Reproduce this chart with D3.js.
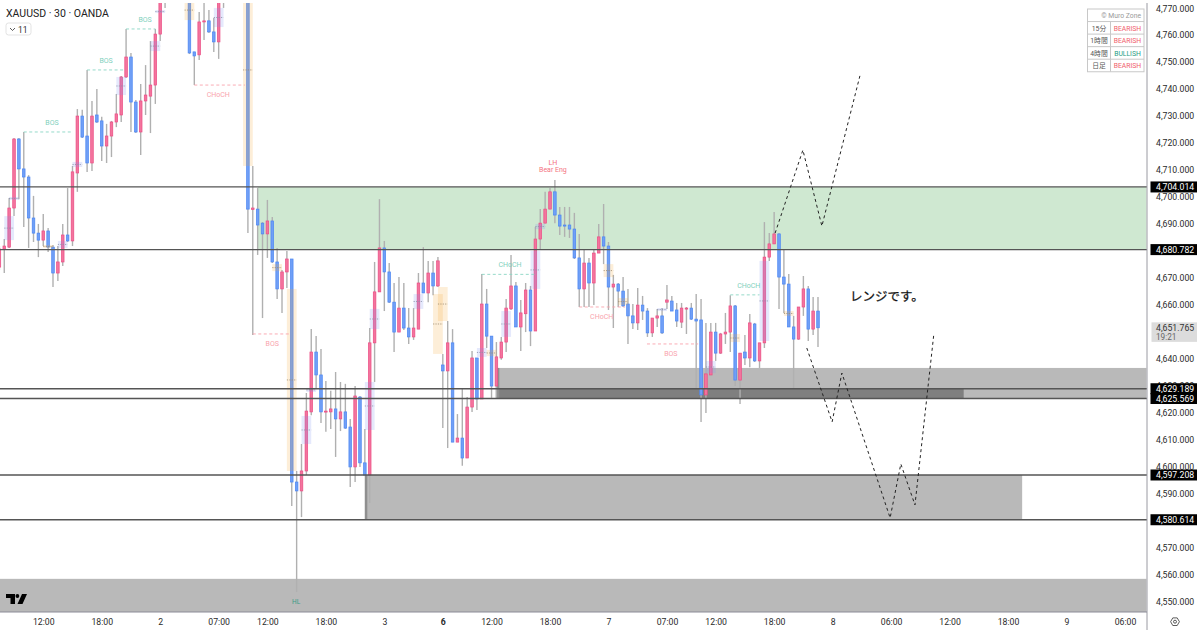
<!DOCTYPE html>
<html>
<head>
<meta charset="utf-8">
<script src="https://cdn.jsdelivr.net/npm/d3@7"></script>
<style>
  html, body { margin: 0; padding: 0; background: #fff; }
  svg { display: block; font-family: Roboto, "Noto Sans CJK JP", sans-serif; }
</style>
</head>
<body>
<div id="chart"></div>
<script>
// candles, one entry per 30 minute bar
var opens = [4674.3,4681.0,4681.7,4696.2,4721.8,4710.7,4707.7,4692.5,4686.9,4684.3,4687.7,4681.7,4672.1,4676.2,4686.2,4684.0,4709.2,4730.3,4722.9,4712.9,
  4730.7,4728.5,4719.2,4722.9,4728.1,4730.7,4744.8,4752.2,4735.5,4724.4,4735.9,4737.7,4741.8,4760.7,4782.0,4780.0,4785.0,4790.0,4787.0,4784.0,
  4754.1,4753.0,4765.2,4765.6,4761.5,4757.8,4778.0,4782.0,4785.0,4788.0,4786.0,4784.0,4695.7,4695.8,4690.6,4686.6,4691.4,4676.2,4666.2,4672.5,
  4677.3,4594.6,4591.3,4598.7,4620.6,4642.8,4634.3,4620.6,4620.6,4621.7,4618.0,4620.6,4615.0,4600.2,4626.1,4601.7,4597.2,4646.2,4665.1,4681.4,
  4672.5,4661.3,4650.2,4659.1,4651.7,4648.4,4651.3,4668.4,4664.7,4672.1,4667.3,4638.0,4635.8,4646.2,4609.4,4610.9,4603.5,4622.4,4640.6,4625.4,
  4660.6,4648.7,4630.2,4640.6,4646.5,4658.8,4667.3,4652.1,4657.0,4665.8,4650.6,4684.7,4690.6,4695.8,4702.2,4693.6,4689.9,4689.9,4688.4,4677.7,
  4666.2,4675.8,4668.4,4679.5,4685.5,4682.1,4666.9,4668.0,4665.4,4660.6,4656.2,4653.6,4660.2,4658.0,4649.9,4655.4,4656.2,4661.3,4661.7,4658.4,
  4653.9,4658.8,4659.1,4655.0,4654.7,4626.9,4634.3,4650.2,4642.4,4649.5,4650.2,4659.9,4632.4,4642.8,4640.6,4653.2,4639.5,4646.2,4678.0,4682.9,
  4686.6,4670.6,4668.0,4652.1,4647.6,4659.5,4666.2,4651.3,4658.0];
var closes = [4681.0,4682.1,4696.2,4721.8,4710.7,4707.7,4692.5,4686.9,4684.3,4687.7,4681.7,4672.1,4676.2,4686.2,4684.0,4709.6,4730.3,4722.5,4712.9,4730.3,
  4728.1,4719.2,4722.9,4728.1,4731.1,4744.8,4752.2,4735.5,4724.4,4735.9,4738.1,4741.8,4760.7,4782.0,4780.0,4785.0,4790.0,4787.0,4784.0,4753.7,
  4752.6,4765.2,4765.6,4761.5,4757.8,4778.0,4782.0,4785.0,4788.0,4786.0,4784.0,4695.8,4696.2,4689.9,4686.6,4691.4,4676.2,4666.2,4672.5,4677.3,
  4594.6,4591.3,4598.7,4620.9,4642.8,4634.3,4620.6,4620.9,4621.7,4618.0,4620.6,4614.6,4600.2,4626.5,4601.7,4597.2,4646.2,4665.1,4681.4,4672.5,
  4661.3,4650.2,4659.1,4651.7,4648.4,4651.7,4668.4,4664.7,4672.1,4667.3,4676.6,4635.8,4646.2,4609.4,4610.9,4603.5,4622.4,4640.6,4625.4,4660.6,
  4648.7,4630.2,4641.0,4646.5,4659.1,4667.3,4652.1,4657.3,4665.8,4650.6,4684.7,4690.6,4695.8,4702.2,4693.6,4689.5,4689.5,4688.4,4677.7,4666.2,
  4675.8,4668.4,4679.5,4685.5,4682.1,4666.9,4668.0,4665.4,4659.9,4656.2,4653.6,4660.2,4658.0,4649.9,4655.4,4656.2,4649.9,4662.1,4658.0,4654.3,
  4659.1,4659.1,4655.0,4654.3,4626.9,4634.7,4650.2,4642.4,4649.5,4650.2,4659.9,4632.4,4642.4,4640.6,4653.6,4639.5,4646.2,4678.0,4682.9,4686.6,
  4670.6,4668.0,4652.1,4647.6,4659.5,4666.2,4651.3,4658.0,4651.8];
var highs = [4682.1,4684.7,4699.9,4722.2,4722.2,4724.4,4708.4,4700.7,4690.3,4694.0,4688.8,4682.5,4682.1,4690.3,4703.6,4711.8,4732.9,4732.6,4747.4,4735.9,
  4740.3,4730.0,4727.4,4728.5,4738.5,4745.2,4762.6,4753.7,4736.3,4742.2,4749.2,4758.1,4762.6,4785.0,4786.0,4790.0,4794.0,4796.0,4792.0,4790.0,
  4754.1,4768.9,4774.0,4769.6,4766.7,4782.0,4788.0,4790.0,4794.0,4795.0,4792.0,4789.0,4711.8,4703.6,4691.0,4699.2,4692.9,4681.4,4673.2,4680.3,
  4677.3,4598.7,4608.7,4627.6,4651.3,4648.7,4643.9,4632.1,4628.4,4635.4,4631.7,4631.0,4618.0,4630.2,4626.5,4614.3,4651.7,4676.2,4699.5,4684.0,
  4675.8,4668.4,4670.6,4668.4,4659.1,4659.1,4672.1,4681.7,4676.6,4676.6,4678.0,4642.1,4654.3,4651.3,4619.8,4629.1,4626.1,4643.2,4640.6,4671.7,
  4666.2,4648.7,4646.5,4648.4,4662.5,4678.8,4668.8,4662.1,4668.4,4667.3,4689.2,4695.8,4702.2,4703.6,4706.6,4696.6,4696.6,4696.6,4694.4,4686.6,
  4681.0,4677.7,4681.0,4690.3,4697.7,4683.6,4671.4,4668.4,4670.6,4666.2,4660.6,4666.5,4663.6,4659.1,4655.4,4658.8,4659.1,4667.7,4663.6,4661.0,
  4661.0,4659.5,4661.0,4664.3,4662.5,4653.6,4653.6,4653.6,4649.9,4657.3,4663.9,4660.2,4642.4,4649.1,4656.9,4653.6,4646.2,4691.0,4686.9,4694.7,
  4686.9,4680.6,4671.7,4656.2,4659.5,4671.0,4667.3,4663.2,4663.2];
var lows = [4673.2,4672.1,4681.4,4693.2,4699.5,4689.2,4681.4,4683.6,4678.0,4682.1,4679.9,4666.9,4669.1,4674.7,4683.6,4682.1,4702.2,4722.2,4709.6,4709.9,
  4727.7,4713.6,4712.9,4715.1,4726.2,4728.1,4744.4,4724.4,4724.0,4715.9,4730.7,4724.0,4734.8,4758.1,4770.4,4776.0,4780.0,4782.0,4778.0,4753.3,
  4741.8,4751.1,4758.5,4761.1,4754.1,4751.5,4770.4,4775.0,4780.0,4781.0,4779.0,4686.9,4649.1,4678.8,4655.4,4677.7,4675.8,4662.5,4657.3,4666.5,
  4585.7,4553.8,4581.6,4597.2,4619.4,4629.1,4616.5,4613.2,4614.3,4603.9,4613.5,4614.3,4592.8,4594.6,4600.2,4597.2,4586.8,4631.7,4665.1,4658.0,
  4661.0,4642.8,4650.2,4651.0,4645.8,4647.3,4651.3,4664.7,4661.3,4663.9,4666.9,4614.6,4607.2,4609.4,4609.4,4600.6,4603.5,4620.6,4621.3,4625.4,
  4644.3,4625.8,4625.8,4639.9,4642.8,4658.4,4652.1,4643.2,4650.2,4645.0,4650.6,4680.6,4690.6,4695.8,4690.6,4686.2,4685.5,4685.1,4677.3,4659.5,
  4659.5,4659.5,4660.2,4679.5,4675.4,4658.4,4651.7,4659.5,4659.5,4645.8,4651.3,4651.0,4654.7,4648.4,4648.4,4652.1,4649.5,4658.8,4658.0,4652.1,
  4651.7,4649.5,4654.7,4629.5,4616.9,4620.2,4634.3,4639.5,4642.1,4645.8,4642.8,4630.2,4623.5,4638.0,4637.2,4639.1,4636.9,4644.3,4676.6,4682.9,
  4658.8,4657.3,4652.1,4629.1,4647.3,4656.2,4646.9,4649.1,4644.7];

// price scale, time scale (4,650 4,680 and 4,580 sit fully behind price tags in the picture)
var priceTicks = [4770,4760,4750,4740,4730,4720,4710,4700,4690,4670,4660,4640,4630,4620,4610,4600,4590,4570,4560,4550];
var timeBars = [9,21,33,45,55,67,79,91,101,113,125,137,147,159,171,183,195,207,219,231];
var timeLabels = ["12:00","18:00","2","07:00","12:00","18:00","3","6","12:00","18:00","7","07:00","12:00","18:00","8","06:00","12:00","18:00","9","06:00"];

// horizontal levels with a black price tag
var levels = [4704.014,4680.782,4629.189,4625.569,4597.208,4580.614];
var lastPrice = 4651.765;

// zones: first bar, last bar, top price, bottom price
var greenZone = [53,235.4,4704.014,4680.782];
var greyZones = [
  [101.9,235.4,4636.9,4629.189],
  [196.0,235.4,4629.189,4625.569],
  [75,209.9,4597.208,4580.614],
  [-1,235.4,4558.7,4546.2]
];
var darkZones = [[101.9,197.9,4629.189,4625.569]];
var edgeZones = [[101.9,102.6,4636.9,4625.569],[75,75.5,4597.208,4580.614]];

// highlight boxes: centre bar, top price, bottom price
var blueBoxes = [[2,4693.2,4684.3],[3,4700.3,4699.2],[16,4713.3,4711.4],[13,4684.0,4681.4],[25,4744.8,4738.1],[32,4758.1,4754.4],[33,4769.6,4768.5],
  [45,4770.4,4763.3],[63,4619.1,4608.7],[64,4629.5,4628.0],[76,4631.7,4613.9],[77,4658.8,4651.3],[86,4664.3,4658.8],[99,4644.3,4641.0],[104,4658.0,4648.4],
  [110,4680.3,4666.2],[111,4690.3,4688.4],[136,4659.1,4658.0],[146,4639.5,4635.0],[157,4676.6,4646.9]];
var orangeBoxes = [[39,4773.3,4765.9],[51,4783.0,4711.8],[10,4682.5,4681.4],[57,4675.4,4672.8],[60,4666.2,4598.7],[90,4664.3,4642.1],[91,4666.9,4654.3],
  [101,4643.6,4641.3],[125,4675.4,4670.6],[128,4662.8,4660.2],[151,4649.5,4646.5],[162,4658.0,4656.2]];

// structure breaks: from bar, to bar, price, label, label bar
var tealBreaks = [[5,15,4724.4,"BOS",10.8],[18,25.5,4747.4,"BOS",21.9],[26,32,4762.6,"BOS",29.9],[99,110,4671.6,"CHoCH",104.8],[150,156,4664.0,"CHoCH",153.8]];
var pinkBreaks = [[40,50.4,4741.8,"CHoCH",44.9],[52,59.6,4649.5,"BOS",56],[119,128.4,4659.5,"CHoCH",123.6],[132.9,143.4,4645.8,"BOS",137.8]];

// hand drawn scenarios: bar, price
var upPathBars = [159.2,164.9,168.8,176.6];
var upPathPrices = [4686.9,4717.7,4689.5,4745.2];
var downPathBars = [165.7,170.9,172.9,182.8,185,187.9,191.8];
var downPathPrices = [4644.3,4616.9,4635.0,4581.3,4601.3,4586.1,4649.9];

var tableRows = ["15分","1時間","4時間","日足"];
var tableTrend = ["BEARISH","BEARISH","BULLISH","BEARISH"];

var width = 1200, height = 630, plotRight = 1147, plotBottom = 612, plotTop = 3;
var blueCol = "#709ff6", blueEdge = "#4b86f3", pinkCol = "#f3749d", pinkEdge = "#ec4c84", wickCol = "#b0b0b0";
var tealText = "#7fd0bd", pinkText = "#f9a3ad";

var svg = d3.select("#chart").append("svg").attr("width", width).attr("height", height);

var x = d3.scaleLinear().domain([0, 168]).range([-0.6, 818]);
var y = d3.scaleLinear().domain([4770, 4550]).range([9, 602.3]);

svg.append("defs").append("clipPath").attr("id", "plot")
  .append("rect").attr("x", 0).attr("y", plotTop).attr("width", plotRight).attr("height", plotBottom - plotTop);

var plot = svg.append("g").attr("clip-path", "url(#plot)");

function zoneRect(g, list, fill) {
  g.selectAll(null).data(list).enter().append("rect")
    .attr("x", function(d) { return x(d[0]); })
    .attr("width", function(d) { return x(d[1]) - x(d[0]); })
    .attr("y", function(d) { return y(d[2]); })
    .attr("height", function(d) { return y(d[3]) - y(d[2]); })
    .style("fill", fill);
}

zoneRect(plot, [greenZone], "#cfe8d1");
zoneRect(plot, greyZones, "#b9b9b9");
zoneRect(plot, darkZones, "#7f7f7f");
zoneRect(plot, edgeZones, "#8f8f8f");

// wicks then bodies
var bars = d3.range(opens.length);
plot.selectAll(".wick").data(bars).enter().append("line")
  .attr("class", "wick")
  .attr("x1", function(i) { return x(i); })
  .attr("x2", function(i) { return x(i); })
  .attr("y1", function(i) { return y(highs[i]); })
  .attr("y2", function(i) { return y(lows[i]); })
  .style("stroke", wickCol)
  .style("stroke-width", 1.4);

plot.selectAll(".body").data(bars).enter().append("rect")
  .attr("class", "body")
  .attr("x", function(i) { return x(i) - 1.3; })
  .attr("width", 2.6)
  .attr("y", function(i) { return y(Math.max(opens[i], closes[i])); })
  .attr("height", function(i) { return Math.max(1, Math.abs(y(opens[i]) - y(closes[i]))); })
  .style("fill", function(i) { return closes[i] >= opens[i] ? pinkCol : blueCol; })
  .style("stroke", function(i) { return closes[i] >= opens[i] ? pinkEdge : blueEdge; })
  .style("stroke-width", 0.7);

function boxes(list, fill, mid) {
  plot.selectAll(null).data(list).enter().append("rect")
    .attr("x", function(d) { return x(d[0] - 1); })
    .attr("width", function(d) { return x(d[0] + 1) - x(d[0] - 1); })
    .attr("y", function(d) { return y(d[1]); })
    .attr("height", function(d) { return y(d[2]) - y(d[1]); })
    .style("fill", fill)
    .style("fill-opacity", 0.2);
  plot.selectAll(null).data(list).enter().append("line")
    .attr("x1", function(d) { return x(d[0] - 1); })
    .attr("x2", function(d) { return x(d[0] + 1); })
    .attr("y1", function(d) { return y((d[1] + d[2]) / 2); })
    .attr("y2", function(d) { return y((d[1] + d[2]) / 2); })
    .style("stroke", mid)
    .style("stroke-width", 0.8)
    .style("stroke-dasharray", "1.2,1.2");
}
boxes(blueBoxes, "#7f93f0", "#8a8fa8");
boxes(orangeBoxes, "#f7a93c", "#9a8a70");

// horizontal levels on top of the candles
plot.selectAll(".level").data(levels).enter().append("line")
  .attr("class", "level")
  .attr("x1", 0).attr("x2", plotRight)
  .attr("y1", function(d) { return y(d); })
  .attr("y2", function(d) { return y(d); })
  .style("stroke", "#555")
  .style("stroke-width", 1.3);

function breaks(list, col, textCol, above) {
  plot.selectAll(null).data(list).enter().append("line")
    .attr("x1", function(d) { return x(d[0]); })
    .attr("x2", function(d) { return x(d[1]); })
    .attr("y1", function(d) { return y(d[2]); })
    .attr("y2", function(d) { return y(d[2]); })
    .style("stroke", col)
    .style("stroke-width", 0.9)
    .style("stroke-dasharray", "3,2.5");
  plot.selectAll(null).data(list).enter().append("text")
    .attr("x", function(d) { return x(d[4]); })
    .attr("y", function(d) { return y(d[2]) + (above ? -7 : 12); })
    .attr("text-anchor", "middle")
    .style("font-size", "7px")
    .style("fill", textCol)
    .text(function(d) { return d[3]; });
}
breaks(tealBreaks, "#8ad6c4", tealText, true);
breaks(pinkBreaks, "#f9a3ad", pinkText, false);

// dashed scenario paths
var pathLine = d3.line();
function scenario(bs, ps) {
  plot.append("path")
    .attr("d", pathLine(bs.map(function(b, i) { return [x(b), y(ps[i])]; })))
    .style("fill", "none")
    .style("stroke", "#222")
    .style("stroke-width", 1)
    .style("stroke-dasharray", "3,3");
}
scenario(upPathBars, upPathPrices);
scenario(downPathBars, downPathPrices);

// single labels
svg.append("text").attr("x", x(113.6)).attr("y", y(4712.2)).attr("text-anchor", "middle")
  .style("font-size", "7px").style("fill", "#f4737f").text("LH");
svg.append("text").attr("x", x(113.6)).attr("y", y(4709.6)).attr("text-anchor", "middle")
  .style("font-size", "7px").style("fill", "#f4737f").text("Bear Eng");
svg.append("text").attr("x", x(60.9)).attr("y", y(4549.2)).attr("text-anchor", "middle")
  .style("font-size", "6.5px").style("fill", "#3c9c88").text("HL");
svg.append("text").attr("x", 850).attr("y", 301)
  .style("font-size", "12.5px").style("fill", "#111").style("stroke", "#111").style("stroke-width", 0.25)
  .style("font-family", "'Noto Sans CJK JP'").text("レンジです。");

// axes
var priceAxis = d3.axisRight(y).tickValues(priceTicks).tickSize(0).tickPadding(9).tickFormat(d3.format(",.3f"));
var gy = svg.append("g").attr("transform", "translate(" + plotRight + ",0)").call(priceAxis);
gy.select(".domain").remove();
gy.selectAll("text").attr("dy", "2px").style("font-size", "8.7px").style("fill", "#2a2a2a").style("font-family", "Roboto");
svg.append("line").attr("x1", plotRight).attr("x2", plotRight).attr("y1", plotTop).attr("y2", height)
  .style("stroke", "#9a9aa2");

var timeAxis = d3.axisBottom(x).tickValues(timeBars).tickSize(0).tickPadding(6.5)
  .tickFormat(function(d, i) { return timeLabels[i]; });
var gx = svg.append("g").attr("transform", "translate(0," + plotBottom + ")").call(timeAxis);
gx.select(".domain").remove();
gx.selectAll("text").style("font-size", "8.7px").style("fill", "#2a2a2a").style("font-family", "Roboto")
  .style("font-weight", function(d, i) { return timeLabels[i] === "6" ? 700 : 400; });
svg.append("line").attr("x1", 0).attr("x2", plotRight).attr("y1", plotBottom).attr("y2", plotBottom)
  .style("stroke", "#8c8c98").style("stroke-width", 1.2);

// price tags
var tags = svg.selectAll(".tag").data(levels).enter().append("g").attr("class", "tag")
  .attr("transform", function(d) { return "translate(1150.5," + y(d) + ")"; });
tags.append("rect").attr("x", 0).attr("y", -5.5).attr("width", 46.5).attr("height", 11).style("fill", "#000");
tags.append("text").attr("x", 5.5).attr("y", 3.1).style("font-size", "8.7px").style("fill", "#fff")
  .text(function(d) { return d3.format(",.3f")(d); });

var lastTag = svg.append("g").attr("transform", "translate(1151.5," + (y(lastPrice) - 5.5) + ")");
lastTag.append("rect").attr("width", 45.5).attr("height", 19.5).style("fill", "#dcdcdc");
lastTag.append("text").attr("x", 4.5).attr("y", 8.5).style("font-size", "8.7px").style("fill", "#333").text(d3.format(",.3f")(lastPrice));
lastTag.append("text").attr("x", 4.5).attr("y", 17.5).style("font-size", "8.2px").style("fill", "#666").text("19:21");

// header
svg.append("text").attr("x", 6).attr("y", 17).style("font-size", "10.5px").style("fill", "#222").text("XAUUSD · 30 · OANDA");
svg.append("rect").attr("x", 6).attr("y", 23).attr("width", 25).attr("height", 12).attr("rx", 2.5)
  .style("fill", "#fff").style("stroke", "#e3e3e3");
svg.append("path").attr("d", "M10 28 L12.5 30.5 L15 28").style("fill", "none").style("stroke", "#333").style("stroke-width", 0.8);
svg.append("text").attr("x", 18).attr("y", 32.5).style("font-size", "8.5px").style("fill", "#333").text("11");

// trend table
var tbl = svg.append("g").attr("transform", "translate(1087.5,9)");
var rowH = 12.55;
tbl.append("rect").attr("width", 56.5).attr("height", rowH * 5).style("fill", "#fff").style("stroke", "#c8c8c8");
tbl.append("text").attr("x", 53.5).attr("y", 9).attr("text-anchor", "end").style("font-size", "6.8px").style("fill", "#999").text("© Muro Zone");
tableRows.forEach(function(r, i) {
  var top = rowH * (i + 1);
  tbl.append("line").attr("x1", 0).attr("x2", 56.5).attr("y1", top).attr("y2", top).style("stroke", "#c8c8c8");
  tbl.append("line").attr("x1", 23).attr("x2", 23).attr("y1", top).attr("y2", top + rowH).style("stroke", "#c8c8c8");
  tbl.append("text").attr("x", 11.5).attr("y", top + 9).attr("text-anchor", "middle").style("font-size", "6.8px").style("fill", "#555").text(r);
  tbl.append("text").attr("x", 40).attr("y", top + 9).attr("text-anchor", "middle").style("font-size", "6.8px")
    .style("fill", tableTrend[i] === "BULLISH" ? "#1f9d84" : "#f0606c").text(tableTrend[i]);
});

// logo
svg.append("path").attr("transform", "translate(6,594)")
  .attr("d", "M0 0 H9 V10 H4.5 V4 H0 Z M9.5 2 a1.9 1.9 0 1 0 3.8 0 a1.9 1.9 0 1 0 -3.8 0 Z M16 0 H21 L16.5 10 H11.5 Z")
  .style("fill", "#000");

// settings button
svg.append("path").attr("transform", "translate(1175,621.7)")
  .attr("d", "M-4.4 0 L-2.2 -3.8 H2.2 L4.4 0 L2.2 3.8 H-2.2 Z")
  .style("fill", "none").style("stroke", "#333").style("stroke-width", 0.8);
svg.append("circle").attr("cx", 1175).attr("cy", 621.7).attr("r", 1.5).style("fill", "none").style("stroke", "#333").style("stroke-width", 0.8);
</script>
</body>
</html>
